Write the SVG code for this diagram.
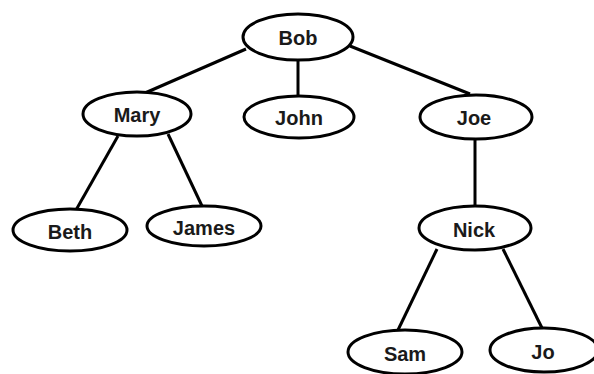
<svg xmlns="http://www.w3.org/2000/svg" width="594" height="374" viewBox="0 0 594 374">
<style>
.n ellipse{fill:#fff;stroke:#000;stroke-width:3}
.n text{font-family:"Liberation Sans",Arial,sans-serif;font-weight:bold;font-size:20px;fill:#1a1a1a;text-anchor:middle;dominant-baseline:central}
#edges line{stroke:#000;stroke-width:3}
</style>
<rect width="594" height="374" fill="#fff"/>
<g id="edges">
<line x1="246" y1="49" x2="145" y2="93"/>
<line x1="298" y1="60" x2="298" y2="96"/>
<line x1="350" y1="46" x2="470" y2="94"/>
<line x1="118" y1="136" x2="76" y2="210"/>
<line x1="168" y1="134" x2="202" y2="206"/>
<line x1="475" y1="138" x2="475" y2="207"/>
<line x1="437" y1="249" x2="398" y2="330"/>
<line x1="503" y1="249" x2="542" y2="328"/>
</g>
<g id="bob" class="n"><ellipse cx="298" cy="37" rx="55" ry="23"/><text x="298" y="38">Bob</text></g>
<g id="mary" class="n"><ellipse cx="137" cy="114" rx="54" ry="22"/><text x="137" y="115">Mary</text></g>
<g id="john" class="n"><ellipse cx="299" cy="117" rx="55" ry="21"/><text x="299" y="118">John</text></g>
<g id="joe" class="n"><ellipse cx="476" cy="117" rx="56" ry="22"/><text x="474" y="118">Joe</text></g>
<g id="beth" class="n"><ellipse cx="70" cy="230" rx="57" ry="21"/><text x="70" y="232">Beth</text></g>
<g id="james" class="n"><ellipse cx="204" cy="226" rx="57" ry="20"/><text x="204" y="228">James</text></g>
<g id="nick" class="n"><ellipse cx="475" cy="228" rx="56" ry="22"/><text x="474" y="230">Nick</text></g>
<g id="sam" class="n"><ellipse cx="405" cy="352" rx="57" ry="22"/><text x="405" y="354">Sam</text></g>
<g id="jo" class="n"><ellipse cx="544" cy="350" rx="54" ry="22"/><text x="543" y="352">Jo</text></g>
</svg>
